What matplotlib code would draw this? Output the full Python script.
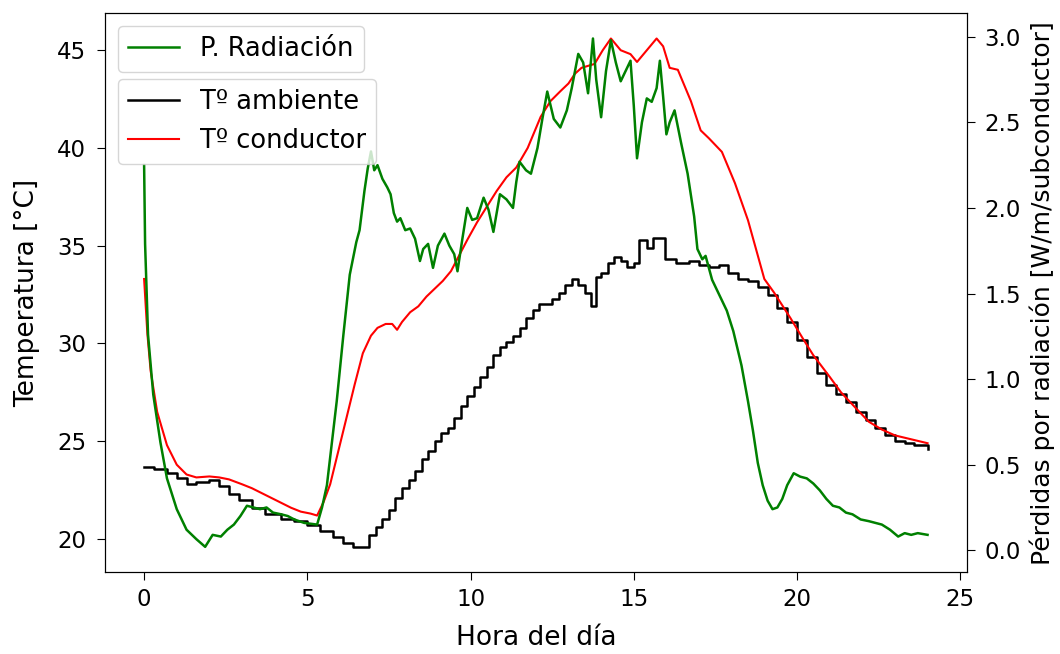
import matplotlib
matplotlib.use("Agg")
import matplotlib.pyplot as plt

# datos
hora_amb = [0.0, 0.3, 0.7, 1.0, 1.3, 1.6, 2.0, 2.3, 2.6, 2.9, 3.3, 3.7, 4.2, 4.6, 5.0, 5.4, 5.8,
            6.1, 6.4, 6.7, 6.9, 7.1, 7.3, 7.5, 7.7, 7.9, 8.1, 8.3, 8.5, 8.7, 8.9, 9.1, 9.3, 9.5,
            9.7, 9.9, 10.1, 10.3, 10.5, 10.7, 10.9, 11.1, 11.3, 11.5, 11.7, 11.9, 12.1, 12.3, 12.5,
            12.7, 12.9, 13.1, 13.3, 13.5, 13.7, 13.85, 14.0, 14.2, 14.4, 14.6, 14.8, 15.0, 15.15,
            15.4, 15.6, 15.8, 15.95, 16.3, 16.7, 17.0, 17.3, 17.6, 17.9, 18.2, 18.5, 18.8, 19.1,
            19.4, 19.7, 20.0, 20.3, 20.6, 20.9, 21.2, 21.5, 21.8, 22.1, 22.4, 22.7, 23.0, 23.3,
            23.6, 24.0]
t_amb = [23.7, 23.6, 23.4, 23.1, 22.8, 22.9, 23.0, 22.7, 22.3, 22.0, 21.6, 21.3, 21.0, 20.9, 20.7,
         20.4, 20.1, 19.8, 19.6, 19.6, 20.2, 20.6, 21.0, 21.5, 22.1, 22.6, 23.0, 23.5, 24.1, 24.5,
         25.0, 25.4, 25.7, 26.2, 26.8, 27.3, 27.8, 28.3, 28.8, 29.4, 29.8, 30.1, 30.4, 30.8, 31.3,
         31.7, 32.0, 32.0, 32.3, 32.6, 33.0, 33.3, 33.0, 32.6, 31.9, 33.4, 33.6, 34.1, 34.4, 34.2,
         33.9, 34.1, 35.3, 34.9, 35.4, 35.4, 34.3, 34.1, 34.2, 34.0, 33.9, 34.0, 33.6, 33.3, 33.2,
         32.9, 32.5, 31.8, 31.1, 30.2, 29.3, 28.5, 27.9, 27.4, 27.0, 26.5, 26.1, 25.7, 25.3, 25.0,
         24.9, 24.8, 24.6]

hora_cond = [0.0, 0.1, 0.2, 0.4, 0.7, 1.0, 1.3, 1.6, 2.0, 2.3, 2.6, 3.0, 3.3, 3.6, 3.9, 4.2, 4.5,
             4.8, 5.1, 5.3, 5.5, 5.7, 5.95, 6.2, 6.45, 6.7, 6.95, 7.15, 7.4, 7.6, 7.75, 7.9, 8.15,
             8.4, 8.65, 8.9, 9.15, 9.4, 9.65, 9.9, 10.2, 10.5, 10.8, 11.1, 11.4, 11.75, 12.0, 12.15,
             12.45, 12.75, 13.0, 13.2, 13.4, 13.8, 14.05, 14.3, 14.6, 14.9, 15.1, 15.4, 15.7, 15.9,
             16.1, 16.35, 16.55, 16.75, 17.05, 17.3, 17.7, 18.1, 18.5, 18.75, 19.0, 19.3, 19.8,
             20.2, 20.5, 21.0, 21.35, 21.8, 22.2, 22.6, 23.0, 23.5, 24.0]
t_cond = [33.3, 30.5, 28.6, 26.5, 24.8, 23.8, 23.3, 23.15, 23.2, 23.15, 23.05, 22.8, 22.6, 22.35,
          22.1, 21.85, 21.6, 21.4, 21.3, 21.2, 21.9, 22.8, 24.5, 26.2, 27.9, 29.5, 30.4, 30.8, 31.0,
          31.0, 30.7, 31.1, 31.6, 31.9, 32.4, 32.8, 33.2, 33.7, 34.5, 35.3, 36.2, 37.0, 37.8, 38.5,
          39.0, 40.0, 41.0, 41.6, 42.4, 42.9, 43.3, 43.8, 44.1, 44.3, 45.0, 45.6, 45.0, 44.8, 44.4,
          45.0, 45.6, 45.2, 44.1, 44.0, 43.2, 42.4, 40.9, 40.5, 39.8, 38.2, 36.3, 34.8, 33.3, 32.6,
          31.3, 30.2, 29.4, 28.3, 27.5, 26.7, 26.0, 25.6, 25.3, 25.1, 24.9]

hora_rad = [0.0, 0.03, 0.12, 0.28, 0.5, 0.7, 1.0, 1.3, 1.6, 1.87, 2.0, 2.1, 2.35, 2.55, 2.75, 2.95,
            3.15, 3.35, 3.55, 3.75, 3.95, 4.2, 4.4, 4.6, 4.9, 5.3, 5.45, 5.6, 5.9, 6.1, 6.3, 6.5,
            6.6, 6.75, 6.85, 6.95, 7.05, 7.15, 7.3, 7.45, 7.55, 7.65, 7.75, 7.85, 8.0, 8.15, 8.3,
            8.45, 8.55, 8.7, 8.85, 9.0, 9.2, 9.35, 9.5, 9.6, 9.75, 9.9, 10.05, 10.2, 10.4, 10.55,
            10.7, 10.9, 11.1, 11.3, 11.4, 11.5, 11.7, 11.85, 12.05, 12.2, 12.35, 12.55, 12.75,
            12.95, 13.1, 13.3, 13.45, 13.6, 13.75, 13.85, 14.0, 14.15, 14.3, 14.45, 14.6, 14.75,
            14.9, 15.0, 15.1, 15.25, 15.4, 15.55, 15.7, 15.8, 15.9, 16.0, 16.1, 16.25, 16.45,
            16.65, 16.85, 16.95, 17.1, 17.2, 17.4, 17.65, 17.85, 18.05, 18.3, 18.5, 18.65, 18.8,
            18.95, 19.1, 19.25, 19.4, 19.55, 19.7, 19.9, 20.1, 20.3, 20.5, 20.7, 20.9, 21.1, 21.3,
            21.5, 21.7, 21.95, 22.2, 22.4, 22.6, 22.85, 23.1, 23.3, 23.5, 23.7, 24.0]
p_rad = [2.25, 1.79, 1.26, 0.91, 0.63, 0.42, 0.24, 0.12, 0.065, 0.02, 0.06, 0.09, 0.08, 0.12, 0.15,
         0.2, 0.26, 0.25, 0.24, 0.25, 0.22, 0.21, 0.20, 0.18, 0.16, 0.15, 0.25, 0.38, 0.87, 1.25,
         1.61, 1.80, 1.87, 2.10, 2.23, 2.33, 2.22, 2.25, 2.17, 2.12, 2.08, 1.97, 1.92, 1.94, 1.87,
         1.88, 1.82, 1.69, 1.76, 1.79, 1.65, 1.78, 1.85, 1.78, 1.73, 1.63, 1.82, 2.0, 1.93, 1.94,
         2.06, 1.99, 1.86, 2.08, 2.05, 2.0, 2.15, 2.27, 2.22, 2.2, 2.35, 2.52, 2.68, 2.52, 2.47,
         2.57, 2.70, 2.9, 2.85, 2.67, 2.99, 2.75, 2.53, 2.80, 2.98, 2.85, 2.74, 2.80, 2.86, 2.60,
         2.29, 2.50, 2.64, 2.62, 2.70, 2.86, 2.65, 2.43, 2.50, 2.57, 2.38, 2.20, 1.95, 1.76, 1.70,
         1.72, 1.58, 1.48, 1.40, 1.28, 1.08, 0.87, 0.70, 0.51, 0.38, 0.29, 0.24, 0.25, 0.30, 0.38,
         0.45, 0.43, 0.42, 0.39, 0.35, 0.30, 0.26, 0.25, 0.22, 0.21, 0.18, 0.17, 0.16, 0.15, 0.12,
         0.08, 0.10, 0.09, 0.10, 0.09]

plt.rcParams["font.size"] = 19
plt.rcParams["xtick.labelsize"] = 16.5
plt.rcParams["ytick.labelsize"] = 16.5
plt.rcParams["legend.fontsize"] = 18.5
plt.rcParams["xtick.major.size"] = 5.5
plt.rcParams["ytick.major.size"] = 5.5

fig = plt.figure(figsize=(10.6, 6.54), dpi=100)
ax1 = fig.add_axes([0.099, 0.125, 0.813, 0.855])
ax2 = ax1.twinx()

ax1.plot(hora_amb, t_amb, color="k", lw=1.8, drawstyle="steps-post", label="Tº ambiente")
ax1.plot(hora_cond, t_cond, color="r", lw=1.5, label="Tº conductor")
ax2.plot(hora_rad, p_rad, color="g", lw=1.8, label="P. Radiación")

ax1.set_xlabel("Hora del día", labelpad=10)
ax1.set_ylabel("Temperatura [°C]", labelpad=12)
ax2.set_ylabel("Pérdidas por radiación [W/m/subconductor]", fontsize=18, labelpad=6)

ax1.set_xticks([0, 5, 10, 15, 20, 25])
ax1.set_yticks([20, 25, 30, 35, 40, 45])
ax2.set_yticks([0.0, 0.5, 1.0, 1.5, 2.0, 2.5, 3.0])
ax1.tick_params(axis="y", pad=8)
ax1.tick_params(axis="x", pad=6)
ax2.tick_params(axis="y", pad=7)

leg2 = ax2.legend(loc="upper left")
leg1 = ax2.legend(*ax1.get_legend_handles_labels(), loc="upper left", bbox_to_anchor=(0, 0.905))
ax2.add_artist(leg2)

fig.savefig("out.png", dpi=100)
